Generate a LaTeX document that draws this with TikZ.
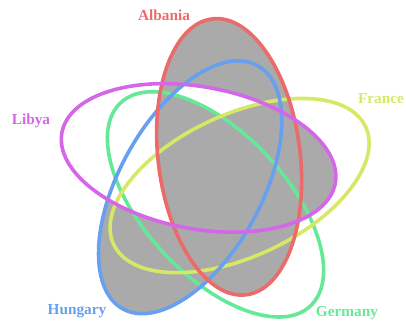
\documentclass[tikz,border=0pt]{standalone}
\usepackage{fontspec}
\setmainfont{Liberation Serif}
\usepackage{tikz}
\usetikzlibrary{calc}

\definecolor{albred}{RGB}{235,107,107}
\definecolor{libmag}{RGB}{213,102,232}
\definecolor{fraylw}{RGB}{216,232,102}
\definecolor{hunblu}{RGB}{102,160,238}
\definecolor{gergrn}{RGB}{102,232,153}
\definecolor{shadegray}{RGB}{170,170,170}

% the five ellipses (centres are set inside the picture)
\newcommand\pAlb{(albania) circle [x radius=139, y radius=71, rotate=97]}
\newcommand\pLib{(libya) circle [x radius=139, y radius=71, rotate=-10.5]}
\newcommand\pFra{(france) circle [x radius=139, y radius=71, rotate=25]}
\newcommand\pHun{(hungary) circle [x radius=139, y radius=71, rotate=61]}
\newcommand\pGer{(germany) circle [x radius=139, y radius=71, rotate=-47]}
\newcommand\pAll{(-5,-5) rectangle (411,328)}

\begin{document}
\begin{tikzpicture}[
  x=1pt, y=1pt,
  set/.style={line width=3.6pt},
  region/.style={fill=shadegray},
  lbl/.style={font=\fontsize{15.3}{16}\selectfont\bfseries, inner sep=0pt}
]
  \useasboundingbox (0,0) rectangle (406,323);
  \coordinate (ctr) at (214.6,144.6);
  \coordinate (albania) at ($(ctr)+(56:26)$);
  \coordinate (libya)   at ($(ctr)+(128:26)$);
  \coordinate (hungary) at ($(ctr)+(200:26)$);
  \coordinate (germany) at ($(ctr)+(272:26)$);
  \coordinate (france)  at ($(ctr)+(344:26)$);

  % shaded regions
  \begin{scope}[even odd rule]
    \clip \pAll \pLib;
    \fill[region] \pAlb;
    \fill[region] \pHun;
  \end{scope}
  \begin{scope}
    \clip \pLib;
    \begin{scope}[even odd rule]
      \clip \pAll \pHun;
      \fill[region] \pAlb;
      \fill[region] \pFra;
    \end{scope}
  \end{scope}
  \begin{scope}
    \clip \pLib;
    \clip \pHun;
    \clip \pAlb;
    \fill[region] \pFra;
    \fill[region] \pGer;
  \end{scope}

  % outlines
  \draw[set, gergrn] \pGer;
  \draw[set, fraylw] \pFra;
  \draw[set, hunblu] \pHun;
  \draw[set, albred] \pAlb;
  \draw[set, libmag] \pLib;

  % labels
  \node[lbl, text=albred] (lalb) at (164,308) {Albania};
  \node[lbl, text=libmag] (llib) at (31,202) {Libya};
  \node[lbl, text=fraylw] (lfra) at (381,224) {France};
  \node[lbl, text=hunblu] (lhun) at (77,12) {Hungary};
  \node[lbl, text=gergrn] (lger) at (347,10) {Germany};
\end{tikzpicture}
\end{document}
